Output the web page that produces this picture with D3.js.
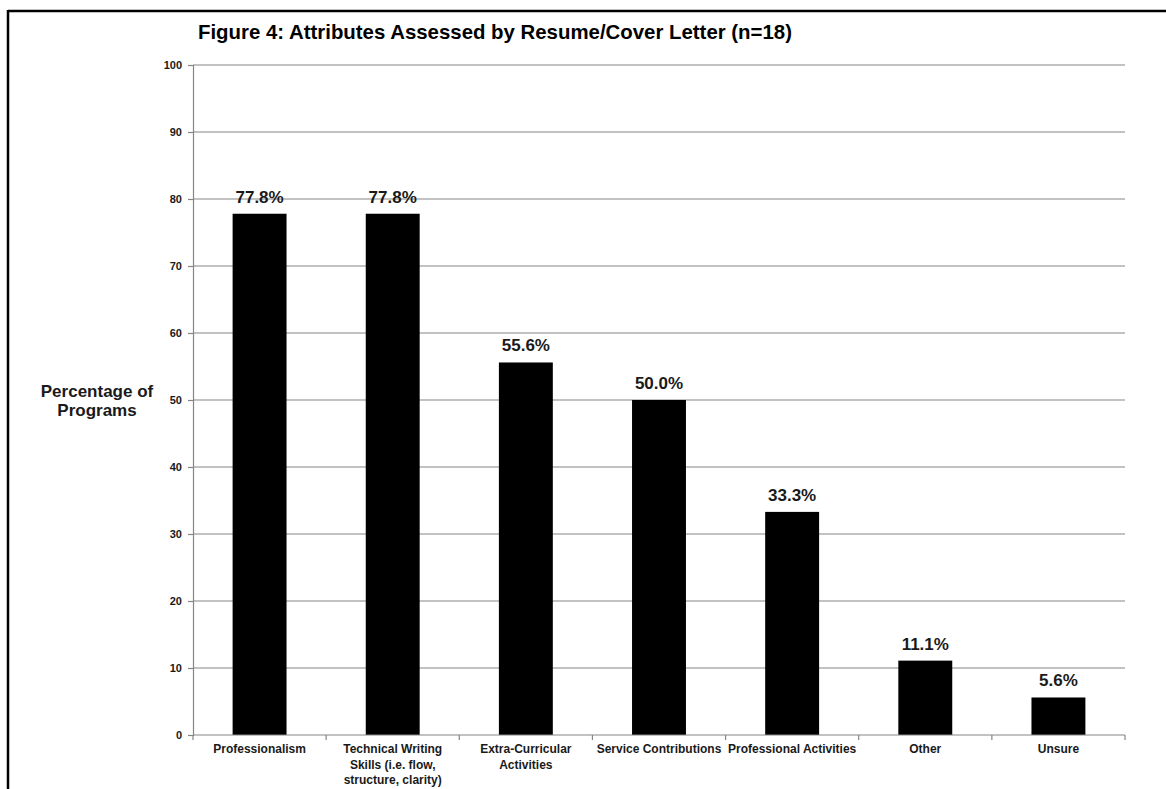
<!DOCTYPE html>
<html><head><meta charset="utf-8">
<script src="https://cdn.jsdelivr.net/npm/d3@7"></script>
<style>
html,body{margin:0;padding:0;background:#fff;}
svg{display:block;font-family:"Liberation Sans",Arial,sans-serif;}
</style></head>
<body>
<svg id="chart" width="1166" height="789"></svg>
<script>
const categories = ["Professionalism","Technical Writing Skills (i.e. flow, structure, clarity)","Extra-Curricular Activities","Service Contributions","Professional Activities","Other","Unsure"];
const categoryLines = [["Professionalism"],["Technical Writing","Skills (i.e. flow,","structure, clarity)"],["Extra-Curricular","Activities"],["Service Contributions"],["Professional Activities"],["Other"],["Unsure"]];
const values = [77.8, 77.8, 55.6, 50.0, 33.3, 11.1, 5.6];
const yTicks = [0,10,20,30,40,50,60,70,80,90,100];
const titleText = "Figure 4: Attributes Assessed by Resume/Cover Letter (n=18)";
const yTitle = ["Percentage of","Programs"];

const svg = d3.select("#chart");
const mLeft = 193, mRight = 1125, mTop = 65, mBottom = 735;

// frame
svg.append("line").attr("x1",8).attr("x2",1166).attr("y1",11).attr("y2",11).attr("stroke","#000").attr("stroke-width",2.5);
svg.append("line").attr("x1",8).attr("x2",8).attr("y1",10).attr("y2",789).attr("stroke","#000").attr("stroke-width",2.5);

const x = d3.scaleBand().domain(categories).range([mLeft,mRight]).padding(0);
const y = d3.scaleLinear().domain([0,100]).range([mBottom,mTop]);

// gridlines
svg.append("g").selectAll("line").data(yTicks.filter(t=>t>0)).join("line")
  .attr("x1",mLeft).attr("x2",mRight).attr("y1",d=>y(d)).attr("y2",d=>y(d))
  .attr("stroke","#858585").attr("stroke-width",1.2);

// y axis
const yAxis = svg.append("g").attr("transform",`translate(${mLeft},0)`)
  .call(d3.axisLeft(y).tickValues(yTicks).tickSize(5).tickPadding(6).tickFormat(d3.format("d")));
yAxis.select(".domain").attr("stroke","#858585").attr("stroke-width",1.2);
yAxis.selectAll(".tick line").attr("stroke","#858585").attr("stroke-width",1.2);
yAxis.selectAll("text").attr("font-size",11).attr("font-weight","bold").attr("fill","#1a1a1a");

// bars
const bw = x.bandwidth()*0.405;
svg.append("g").selectAll("rect").data(values).join("rect")
  .attr("x",(d,i)=>x(categories[i])+x.bandwidth()/2-bw/2)
  .attr("width",bw)
  .attr("y",d=>y(d)).attr("height",d=>y(0)-y(d))
  .attr("fill","#000");

// x axis
svg.append("line").attr("x1",mLeft).attr("x2",mRight).attr("y1",mBottom).attr("y2",mBottom).attr("stroke","#858585").attr("stroke-width",1.2);
const bounds = categories.map(c=>x(c)).concat([mRight]);
svg.append("g").selectAll("line").data(bounds).join("line")
  .attr("x1",d=>d).attr("x2",d=>d).attr("y1",mBottom).attr("y2",mBottom+5)
  .attr("stroke","#858585").attr("stroke-width",1.2);

// category labels
const cl = svg.append("g").selectAll("text").data(categoryLines).join("text")
  .attr("x",(d,i)=>x(categories[i])+x.bandwidth()/2)
  .attr("y",mBottom+18)
  .attr("text-anchor","middle").attr("font-size",12).attr("font-weight","bold").attr("fill","#1a1a1a");
cl.selectAll("tspan").data(d=>d).join("tspan")
  .attr("x",function(){return this.parentNode.getAttribute("x");})
  .attr("dy",(d,j)=>j===0?0:15.5).text(d=>d);

// value labels
svg.append("g").selectAll("text").data(values).join("text")
  .attr("x",(d,i)=>x(categories[i])+x.bandwidth()/2)
  .attr("y",d=>y(d)-11)
  .attr("text-anchor","middle").attr("font-size",17).attr("font-weight","bold").attr("fill","#1a1a1a")
  .text(d=>d.toFixed(1)+"%");

// title
svg.append("text").attr("x",198).attr("y",39).attr("font-size",20.4).attr("font-weight","bold").attr("fill","#000").text(titleText);

// y title
svg.append("text").attr("x",97).attr("y",397).attr("text-anchor","middle").attr("font-size",17).attr("font-weight","bold").attr("fill","#1a1a1a")
  .selectAll("tspan").data(yTitle).join("tspan").attr("x",97).attr("dy",(d,j)=>j===0?0:19).text(d=>d);
</script>
</body></html>
